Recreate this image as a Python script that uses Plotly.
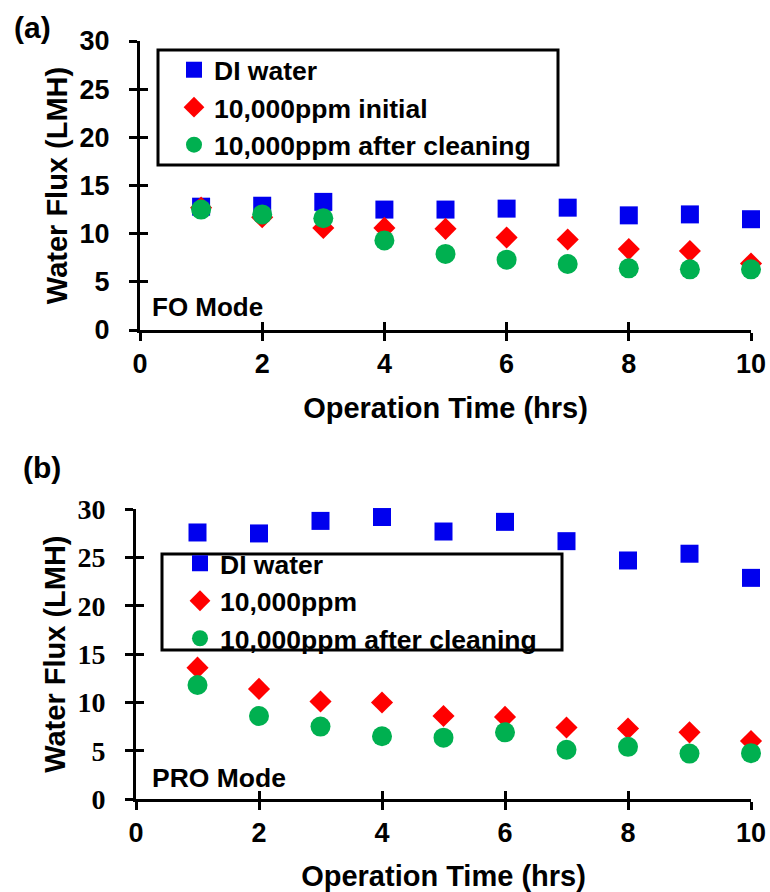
import plotly.graph_objects as go

# ---------------- data ----------------
hours = [1, 2, 3, 4, 5, 6, 7, 8, 9, 10]

fo_di_water = [12.8, 12.9, 13.3, 12.5, 12.5, 12.6, 12.7, 11.9, 12.0, 11.5]
fo_initial = [12.7, 11.7, 10.6, 10.6, 10.5, 9.6, 9.4, 8.4, 8.2, 6.9]
fo_after_cleaning = [12.5, 12.0, 11.6, 9.3, 7.9, 7.3, 6.85, 6.4, 6.3, 6.3]

pro_di_water = [27.6, 27.5, 28.8, 29.2, 27.7, 28.7, 26.7, 24.7, 25.4, 22.9]
pro_initial = [13.6, 11.4, 10.1, 10.0, 8.6, 8.5, 7.4, 7.3, 6.9, 6.0]
pro_after_cleaning = [11.8, 8.6, 7.5, 6.5, 6.35, 6.9, 5.1, 5.4, 4.7, 4.75]

names_a = ["DI water", "10,000ppm initial", "10,000ppm after cleaning"]
names_b = ["DI water", "10,000ppm", "10,000ppm after cleaning"]

x_ticks = [0, 2, 4, 6, 8, 10]
y_ticks = [0, 5, 10, 15, 20, 25, 30]

# ---------------- style ----------------
W, H = 770, 892
BLUE = "#0000EE"
RED = "#FF0000"
GREEN = "#00B050"
SANS = "Liberation Sans"
SERIF = "Liberation Serif"


def px_x(p):
    return p / W


def px_y(p):
    return 1 - p / H


def bold(size, family=SANS):
    return dict(family=family, size=size, color="black", weight="bold")


fig = go.Figure()

series = [
    ("square", 18, BLUE),
    ("diamond", 17, RED),
    ("circle", 20, GREEN),
]

for vals, name, (sym, sz, col) in zip([fo_di_water, fo_initial, fo_after_cleaning], names_a, series):
    fig.add_trace(go.Scatter(
        x=hours, y=vals, mode="markers", name=name,
        marker=dict(symbol=sym, size=sz, color=col, line=dict(width=0)),
        xaxis="x", yaxis="y", legend="legend", cliponaxis=False,
    ))

for vals, name, (sym, sz, col) in zip([pro_di_water, pro_initial, pro_after_cleaning], names_b, series):
    fig.add_trace(go.Scatter(
        x=hours, y=vals, mode="markers", name=name,
        marker=dict(symbol=sym, size=sz, color=col, line=dict(width=0)),
        xaxis="x2", yaxis="y2", legend="legend2", cliponaxis=False,
    ))

# empty helper traces so that the overlay (inner tick) axes get drawn
for xa, ya in [("x3", "y"), ("x", "y3"), ("x4", "y2"), ("x2", "y4")]:
    fig.add_trace(go.Scatter(x=[], y=[], xaxis=xa, yaxis=ya, showlegend=False, hoverinfo="skip"))

dom_xa = [px_x(140), px_x(751)]
dom_ya = [px_y(330), px_y(41)]
dom_xb = [px_x(136), px_x(751)]
dom_yb = [px_y(799), px_y(509.3)]

TICK_FS = 27
TITLE_FS = 29
LEG_FS = 26.5

common_x = dict(range=[0, 10], tickvals=x_ticks, showgrid=False, zeroline=False,
                showline=True, linewidth=3, linecolor="black",
                ticks="outside", ticklen=8, tickwidth=3, tickcolor="black",
                tickfont=bold(TICK_FS), ticklabelstandoff=0, fixedrange=True, automargin=False)
common_y = dict(range=[0, 30], tickvals=y_ticks, showgrid=False, zeroline=False,
                showline=True, linewidth=3, linecolor="black",
                ticks="outside", ticklen=8, tickwidth=3, tickcolor="black",
                ticklabelstandoff=14, fixedrange=True, automargin=False)
inner_x = dict(range=[0, 10], tickvals=x_ticks, showgrid=False, zeroline=False, showline=False,
               ticks="inside", ticklen=8, tickwidth=3, tickcolor="black", showticklabels=False,
               automargin=False, fixedrange=True)
inner_y = dict(range=[0, 30], tickvals=y_ticks, showgrid=False, zeroline=False, showline=False,
               ticks="inside", ticklen=8, tickwidth=3, tickcolor="black", showticklabels=False,
               automargin=False, fixedrange=True)

fig.update_layout(
    width=W, height=H, autosize=False,
    margin=dict(l=0, r=0, t=0, b=0, pad=0, autoexpand=False),
    paper_bgcolor="white", plot_bgcolor="white",
    showlegend=True,
    xaxis=dict(domain=dom_xa, anchor="y",
               title=dict(text="Operation Time (hrs)", font=bold(TITLE_FS), standoff=20), **common_x),
    yaxis=dict(domain=dom_ya, anchor="x", tickfont=bold(TICK_FS),
               title=dict(text="Water Flux (LMH)", font=bold(TITLE_FS), standoff=4), **common_y),
    xaxis2=dict(domain=dom_xb, anchor="y2",
                title=dict(text="Operation Time (hrs)", font=bold(TITLE_FS), standoff=20), **common_x),
    yaxis2=dict(domain=dom_yb, anchor="x2", tickfont=bold(TICK_FS + 1, SERIF),
                title=dict(text="Water Flux (LMH)", font=bold(TITLE_FS), standoff=4), **common_y),
    xaxis3=dict(overlaying="x", anchor="y", side="bottom", **inner_x),
    yaxis3=dict(overlaying="y", anchor="x", side="left", **inner_y),
    xaxis4=dict(overlaying="x2", anchor="y2", side="bottom", **inner_x),
    yaxis4=dict(overlaying="y2", anchor="x2", side="left", **inner_y),
    legend=dict(x=px_x(174), y=px_y(46), xanchor="left", yanchor="top",
                bgcolor="rgba(0,0,0,0)", borderwidth=0, font=bold(LEG_FS), itemsizing="trace"),
    legend2=dict(x=px_x(180), y=px_y(539.6), xanchor="left", yanchor="top",
                 bgcolor="rgba(0,0,0,0)", borderwidth=0, font=bold(LEG_FS), itemsizing="trace"),
    shapes=[
        dict(type="rect", xref="paper", yref="paper",
             x0=px_x(158), x1=px_x(558), y0=px_y(165), y1=px_y(50),
             line=dict(color="black", width=3), fillcolor="rgba(0,0,0,0)", layer="above"),
        dict(type="rect", xref="paper", yref="paper",
             x0=px_x(162), x1=px_x(562), y0=px_y(650), y1=px_y(554),
             line=dict(color="black", width=3), fillcolor="rgba(0,0,0,0)", layer="above"),
    ],
    annotations=[
        dict(text="(a)", xref="paper", yref="paper", x=px_x(12), y=px_y(27.5),
             xanchor="left", yanchor="middle", showarrow=False, font=bold(30)),
        dict(text="(b)", xref="paper", yref="paper", x=px_x(21), y=px_y(468),
             xanchor="left", yanchor="middle", showarrow=False, font=bold(30)),
        dict(text="FO Mode", xref="paper", yref="paper", x=px_x(150), y=px_y(307),
             xanchor="left", yanchor="middle", showarrow=False, font=bold(26)),
        dict(text="PRO Mode", xref="paper", yref="paper", x=px_x(150), y=px_y(778),
             xanchor="left", yanchor="middle", showarrow=False, font=bold(26.5)),
    ],
)

fig.write_html("out.html")
